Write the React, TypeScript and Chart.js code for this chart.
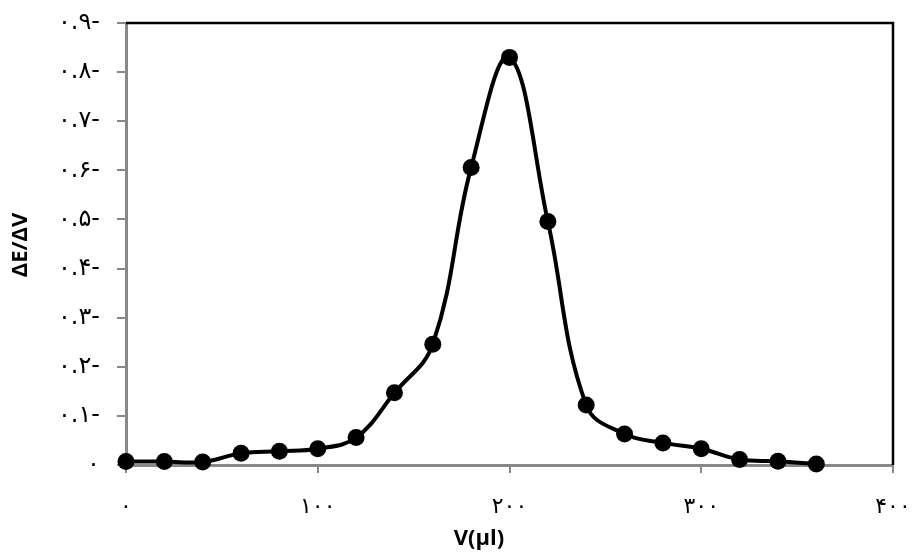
import React, { useEffect, useRef } from "react";
import { Chart, registerables } from "chart.js";

Chart.register(...registerables);

const volumes = [0, 20, 40, 60, 80, 100, 120, 140, 160, 180, 200, 220, 240, 260, 280, 300, 320, 340, 360];
const dEdV = [0.007, 0.007, 0.006, 0.024, 0.028, 0.033, 0.056, 0.147, 0.246, 0.606, 0.830, 0.496, 0.122, 0.063, 0.045, 0.033, 0.011, 0.0075, 0.002];

const xTickValues = [0, 100, 200, 300, 400];
const xTickLabels = ["۰", "۱۰۰", "۲۰۰", "۳۰۰", "۴۰۰"];
const yTickValues = [0, 0.1, 0.2, 0.3, 0.4, 0.5, 0.6, 0.7, 0.8, 0.9];
const yTickLabels = ["۰", "۰.۱-", "۰.۲-", "۰.۳-", "۰.۴-", "۰.۵-", "۰.۶-", "۰.۷-", "۰.۸-", "۰.۹-"];

const xTitle = "V(µl)";
const yTitle = "ΔE/ΔV";

const W = 912;
const H = 553;

const framePlugin = {
  id: "frame",
  afterDraw(chart: any) {
    const { ctx, chartArea } = chart;
    ctx.save();
    ctx.strokeStyle = "#000";
    ctx.lineWidth = 2.5;
    ctx.beginPath();
    ctx.moveTo(chartArea.left, chartArea.top);
    ctx.lineTo(chartArea.right, chartArea.top);
    ctx.lineTo(chartArea.right, chartArea.bottom);
    ctx.stroke();
    ctx.fillStyle = "#000";
    ctx.font = "bold 22px 'Open Sans', sans-serif";
    ctx.textAlign = "center";
    ctx.textBaseline = "middle";
    ctx.fillText(xTitle, 479, 539);
    ctx.translate(21, 245);
    ctx.rotate(-Math.PI / 2);
    ctx.fillText(yTitle, 0, 0);
    ctx.restore();
  },
};

export default function App() {
  const ref = useRef<HTMLCanvasElement | null>(null);
  useEffect(() => {
    document.body.style.margin = "0";
    const canvas = ref.current!;
    const chart = new Chart(canvas, {
      type: "line",
      data: {
        labels: volumes,
        datasets: [
          {
            data: volumes.map((v, i) => ({ x: v, y: dEdV[i] })),
            borderColor: "#000",
            backgroundColor: "#000",
            borderWidth: 4,
            pointRadius: 8.5,
            pointHoverRadius: 8.5,
            pointBackgroundColor: "#000",
            pointBorderWidth: 0,
            tension: 0.4,
            fill: false,
            clip: false as any,
          },
        ],
      },
      options: {
        responsive: false,
        animation: false,
        events: [],
        layout: { padding: { top: 23, right: 19, left: 0, bottom: 0 } },
        plugins: { legend: { display: false }, tooltip: { enabled: false }, title: { display: false } },
        scales: {
          x: {
            type: "linear",
            min: 0,
            max: 400,
            afterBuildTicks: (s: any) => {
              s.ticks = xTickValues.map((v) => ({ value: v }));
            },
            afterFit: (s: any) => {
              s.height = H - 465;
              s.paddingLeft = 0;
              s.paddingRight = 0;
            },
            grid: { drawOnChartArea: false, drawTicks: true, tickLength: 8, color: "#888", lineWidth: 2 },
            border: { color: "#888", width: 3 },
            ticks: {
              padding: 21,
              color: "#000",
              maxRotation: 0,
              autoSkip: false,
              font: { family: "'DejaVu Sans', sans-serif", size: 22 },
              callback: (v: any) => {
                const i = xTickValues.indexOf(Number(v));
                return i >= 0 ? xTickLabels[i] : "";
              },
            },
          },
          y: {
            type: "linear",
            min: 0,
            max: 0.9,
            afterBuildTicks: (s: any) => {
              s.ticks = yTickValues.map((v) => ({ value: v }));
            },
            afterFit: (s: any) => {
              s.width = 126;
              s.paddingTop = 0;
              s.paddingBottom = 0;
            },
            grid: { drawOnChartArea: false, drawTicks: true, tickLength: 9, color: "#888", lineWidth: 2 },
            border: { color: "#888", width: 3 },
            ticks: {
              padding: 17,
              color: "#000",
              autoSkip: false,
              font: { family: "'DejaVu Sans', sans-serif", size: 24 },
              callback: (v: any, idx: number) => yTickLabels[idx] ?? "",
            },
          },
        },
      },
      plugins: [framePlugin],
    });
    return () => chart.destroy();
  }, []);
  return (
    <div style={{ width: W, height: H }}>
      <canvas ref={ref} width={W} height={H} style={{ display: "block" }} />
    </div>
  );
}
